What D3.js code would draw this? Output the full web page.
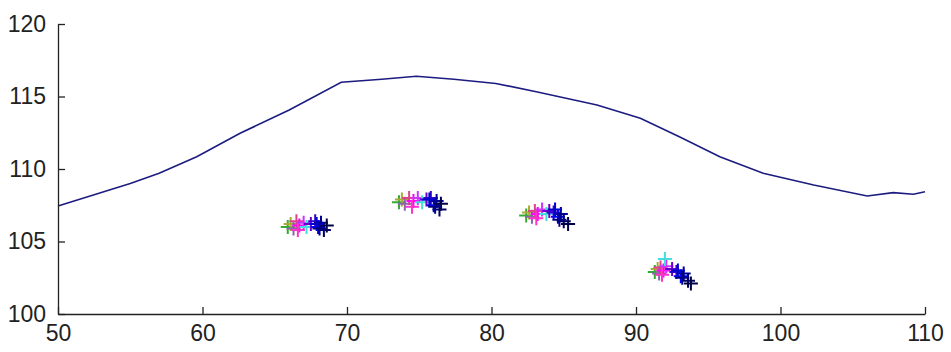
<!DOCTYPE html>
<html><head><meta charset="utf-8">
<script src="https://cdn.jsdelivr.net/npm/d3@7"></script>
<style>body{margin:0;background:#fff}svg{display:block}</style>
</head><body>
<script>
const xTicks = [50,60,70,80,90,100,110];
const yTicks = [100,105,110,115,120];
const lineX = [50,55,57,59.6,62.6,66,69.6,72.4,74.8,77.4,80.3,83.1,87.3,90.3,93,95.8,98.8,102.3,106,107.8,109.2,110];
const lineY = [107.45,109.0,109.7,110.85,112.46,114.07,115.98,116.19,116.4,116.19,115.9,115.33,114.41,113.5,112.23,110.85,109.7,108.9,108.14,108.37,108.26,108.43];
const seriesColors = ['#33aa33','#aaaa33','#8866aa','#dd4488','#ff00ff','#ff33cc','#cc33ff','#44dddd','#6600cc','#3300cc','#0000ff','#000099','#000066','#000044','#0000cc','#000080'];
const seriesX = [
 [65.9,73.6,82.4,91.3],[66.1,73.8,82.6,91.5],[66.3,74.0,82.8,91.6],[66.5,74.3,83.0,91.7],
 [66.7,74.6,83.2,91.9],[66.6,74.5,83.1,91.8],[67.0,74.9,83.5,92.1],[67.2,75.2,83.8,92.0],
 [67.5,75.5,84.0,92.5],[67.8,75.8,84.3,92.8],[68.0,76.0,84.6,93.1],[68.2,76.2,84.8,93.3],
 [68.4,76.4,85.0,93.6],[68.6,76.5,85.3,93.8],[67.9,75.7,84.4,92.9],[68.1,76.1,84.7,93.2]];
const seriesY = [
 [106.0,107.7,106.8,102.9],[106.2,107.9,107.0,103.1],[105.9,107.6,106.7,102.8],[106.4,108.0,107.1,103.2],
 [106.1,107.8,106.9,103.0],[105.8,107.4,106.6,102.7],[106.3,108.0,107.2,103.3],[106.0,107.7,106.9,103.8],
 [106.2,107.9,107.1,103.1],[106.4,108.0,107.0,102.9],[106.0,107.5,106.7,102.6],[106.3,107.8,106.9,102.8],
 [105.8,107.2,106.4,102.3],[106.1,107.6,106.2,102.1],[106.2,107.9,107.2,103.0],[105.9,107.4,106.5,102.5]];

const W=951,H=352;
const svg=d3.select('body').append('svg').attr('width',W).attr('height',H);
const x=d3.scaleLinear().domain([50,110]).range([58,925]);
const y=d3.scaleLinear().domain([100,120]).range([314,24]);
const font='"Liberation Sans", Arial, sans-serif';

const line=d3.line().x(d=>x(d[0])).y(d=>y(d[1]));
svg.append('path').datum(lineX.map((v,i)=>[v,lineY[i]]))
  .attr('d',line).attr('fill','none').attr('stroke','#1c1c80').attr('stroke-width',1.6);

const ms=7;
seriesColors.forEach((c,si)=>{
  const g=svg.append('g');
  seriesX[si].forEach((xv,i)=>{
    const px=x(xv),py=y(seriesY[si][i]);
    g.append('path').attr('d',`M${px-ms},${py}H${px+ms}M${px},${py-ms}V${py+ms}`)
      .attr('stroke',c).attr('stroke-width',2).attr('fill','none');
  });
});

const xa=d3.axisBottom(x).tickValues(xTicks).tickSizeInner(-7).tickSizeOuter(0).tickPadding(10).tickFormat(d3.format('d'));
const ya=d3.axisLeft(y).tickValues(yTicks).tickSizeInner(-7).tickSizeOuter(0).tickPadding(12).tickFormat(d3.format('d'));
const gx=svg.append('g').attr('transform','translate(0,314)').call(xa);
const gy=svg.append('g').attr('transform','translate(58,0)').call(ya);
[gx,gy].forEach(g=>{
  g.selectAll('path,line').attr('stroke','#222').attr('stroke-width',1.3);
  g.selectAll('text').attr('fill','#222').style('font-family',font).style('font-size','23px');
});
gx.selectAll('text').attr('dy','0.75em');
</script>
</body></html>
